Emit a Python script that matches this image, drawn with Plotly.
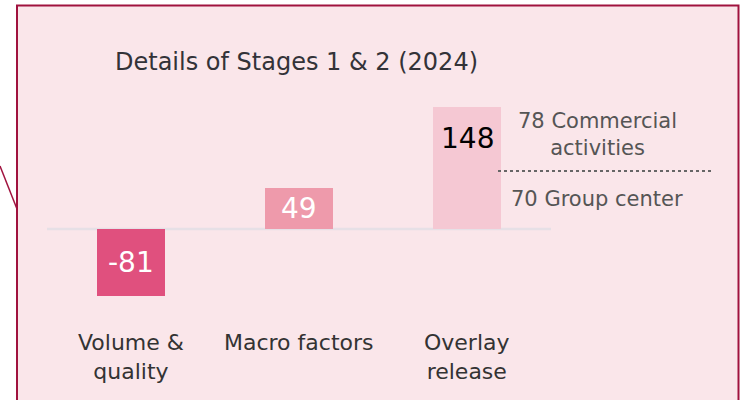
import plotly.graph_objects as go

categories = ["Volume &<br>quality", "Macro factors", "Overlay<br>release"]
values = [-81, 49, 148]
bar_colors = ["#e0507e", "#ee9aab", "#f5c8d3"]
label_colors = ["white", "white", "black"]
split_labels = ["78 Commercial<br>activities", "70 Group center"]
split_values = [78, 70]
title = "Details of Stages 1 & 2 (2024)"

FONT = "DejaVu Sans"
W, H = 740, 400
px_per_cat = 168.0
x_center0 = 131.0
y_zero = 229.0
scale = 67.0 / 81.0

xr = [-x_center0 / px_per_cat, (W - x_center0) / px_per_cat]
yr = [-(H - y_zero) / scale, y_zero / scale]


def xp(px):
    return px / W


def yp(py):
    return 1 - py / H


def xd(px):
    return (px - x_center0) / px_per_cat


xs = list(range(len(categories)))

fig = go.Figure()
fig.add_trace(go.Bar(
    x=xs, y=values, width=68 / px_per_cat,
    marker=dict(color=bar_colors, line=dict(width=0)),
    hoverinfo="skip", showlegend=False,
))

shapes = []
# panel
shapes.append(dict(type="rect", xref="paper", yref="paper",
                   x0=xp(17), x1=xp(738.5), y0=-0.05, y1=yp(5.5),
                   fillcolor="#fae6ea", line=dict(color="#a0123e", width=2),
                   layer="below"))
shapes.append(dict(type="line", xref="paper", yref="paper",
                   x0=xp(0), y0=yp(166), x1=xp(17), y1=yp(209),
                   line=dict(color="#a0123e", width=1.5), layer="below"))
# zero line
shapes.append(dict(type="line", xref="x", yref="y", x0=-0.5, x1=len(categories) - 0.5,
                   y0=0, y1=0, line=dict(color="#e6e0e6", width=2.5), layer="below"))
# dotted split line
shapes.append(dict(type="line", xref="x", yref="y", x0=xd(498), x1=xd(712),
                   y0=split_values[1], y1=split_values[1],
                   line=dict(color="#666666", width=2, dash="dot")))

annotations = []
annotations.append(dict(text=title, xref="paper", yref="paper", x=xp(113), y=yp(62),
                        xanchor="left", yanchor="middle", showarrow=False,
                        font=dict(family=FONT, size=24, color="#333338")))
for i, (c, v) in enumerate(zip(categories, values)):
    if i < 2:
        ly = v / 2
    else:
        ly = split_values[1] + split_values[0] / 2
    annotations.append(dict(text=str(v), x=i, y=ly, xref="x", yref="y", showarrow=False,
                            xanchor="center", yanchor="middle",
                            font=dict(family=FONT, size=28, color=label_colors[i])))
    annotations.append(dict(text=c, x=i, y=yp(328), xref="x", yref="paper", showarrow=False,
                            xanchor="center", yanchor="top",
                            font=dict(family=FONT, size=22, color="#333333")))
# split labels
annotations.append(dict(text=split_labels[0], x=xd(597), y=yp(134),
                        xref="x", yref="paper", showarrow=False, xanchor="center", yanchor="middle",
                        font=dict(family=FONT, size=21, color="#555555")))
annotations.append(dict(text=split_labels[1], x=xd(597), y=yp(199),
                        xref="x", yref="paper", showarrow=False, xanchor="center", yanchor="middle",
                        font=dict(family=FONT, size=21, color="#555555")))

fig.update_layout(
    width=W, height=H,
    margin=dict(l=0, r=0, t=0, b=0),
    paper_bgcolor="white", plot_bgcolor="rgba(0,0,0,0)",
    xaxis=dict(range=xr, visible=False, fixedrange=True),
    yaxis=dict(range=yr, visible=False, fixedrange=True),
    shapes=shapes, annotations=annotations,
    bargap=0,
)
fig.write_html("out.html", config={"displayModeBar": False},
               post_script="document.body.style.margin='0';document.body.style.overflow='hidden';")
